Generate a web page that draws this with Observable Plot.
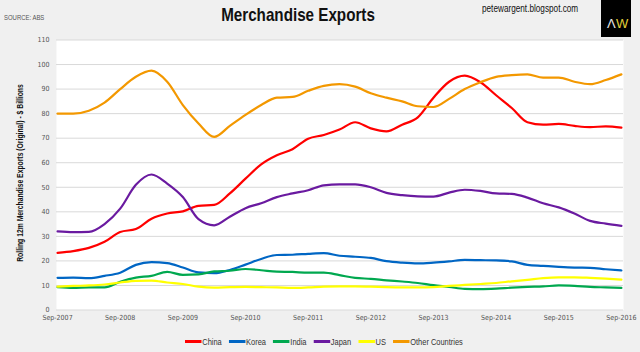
<!DOCTYPE html>
<html>
<head>
<meta charset="utf-8">
<script src="https://cdn.jsdelivr.net/npm/d3@7"></script>
<script src="https://cdn.jsdelivr.net/npm/@observablehq/plot@0.6"></script>
<style>
  body { margin:0; background:#f0f0f0; width:640px; height:352px; overflow:hidden; position:relative;
         font-family:"Liberation Sans",Arial,sans-serif; }
  #chart { position:absolute; left:0; top:0; }
  #title { position:absolute; left:198px; width:200px; top:4px; text-align:center; font-weight:bold; font-size:19px; color:#111;
           white-space:nowrap; transform:scaleX(0.8); transform-origin:center; }
  #source { position:absolute; left:4px; top:14px; font-size:7px; color:#555; white-space:nowrap; transform:scaleX(0.85); transform-origin:left; }
  #url { position:absolute; left:482px; top:3px; font-size:10px; color:#111; white-space:nowrap; transform:scaleX(0.82); transform-origin:left; }
  #logo { position:absolute; left:601px; top:0; width:30px; height:37px; background:#000; }
  #logo span { position:absolute; top:16px; font-size:13px; }
  #ytitle { position:absolute; left:20px; top:173px; transform:translate(-50%,-50%) rotate(-90deg) scaleX(0.8); white-space:nowrap;
            font-size:8.5px; font-weight:bold; color:#111; }
  #legend { position:absolute; left:185px; top:336px; display:flex; align-items:center; font-size:9.5px; color:#333;
            white-space:nowrap; transform:scaleX(0.785); transform-origin:left; }
  #legend .item { display:flex; align-items:center; margin-right:9px; }
  #legend .sw { width:21px; height:3px; margin-right:1px; }
</style>
</head>
<body>
<div id="chart"></div>
<div id="title">Merchandise Exports</div>
<div id="source">SOURCE: ABS</div>
<div id="url">petewargent.blogspot.com</div>
<div id="logo"><span style="left:6px;color:#e6e6e6">Λ</span><span style="left:15px;color:#e3cf3a">W</span></div>
<div id="ytitle">Rolling 12m Merchandise Exports (Original) - $ Billions</div>
<div id="legend"></div>
<script>
// quarterly observations, months since Sep-2007
const months = [0,3,6,9,12,15,18,21,24,27,30,33,36,39,42,45,48,51,54,57,60,63,66,69,72,75,78,81,84,87,90,93,96,99,102,105,108];
const seriesNames = ["China","Korea","India","Japan","US","Other Countries"];
const seriesColors = ["#ff0000","#0066c4","#00a84f","#6a1aa0","#ffff00","#f39800"];
const xTicks = [0,12,24,36,48,60,72,84,96,108];
const xTickLabels = ["Sep-2007","Sep-2008","Sep-2009","Sep-2010","Sep-2011","Sep-2012","Sep-2013","Sep-2014","Sep-2015","Sep-2016"];
const yTicks = [0,10,20,30,40,50,60,70,80,90,100,110];

const china  = [23.3,24,25.3,27.8,31.8,33,37.2,39.3,40.2,42.4,42.8,47.5,53.5,59.3,63,65.5,69.8,71.3,73.5,76.5,74,72.8,75.5,78.5,86.5,93,95.5,92.8,87.5,82.3,76.5,75.5,75.8,75,74.5,74.8,74.3];
const korea  = [13.1,13.2,13,13.9,15.2,18.4,19.5,19.1,17.3,15.3,15,16.3,18.5,20.8,22.4,22.5,22.9,23.2,22.1,21.7,21.2,19.9,19.3,19,19.3,19.8,20.4,20.3,20.2,19.8,18.4,18,17.6,17.3,17.2,16.6,16.1];
const india  = [9.3,9,9.2,9.2,11.5,13.2,13.9,15.5,14.3,14.5,15.7,16,16.7,16.2,15.6,15.5,15.2,15.2,14.2,13.1,12.7,12.1,11.6,11,10.1,9.4,8.6,8.5,8.7,9.1,9.4,9.6,10,9.8,9.4,9.2,9];
const japan  = [32,31.7,31.8,35,41.3,51,55.2,51.5,46,37,34.5,38,41.5,43.5,46,47.5,48.8,50.8,51.2,51.2,50,47.7,46.8,46.3,46.2,47.8,49,48.5,47.5,47.3,45.8,43.5,41.8,39.3,36.3,35.2,34.3];
const us     = [9.5,9.8,10,10.4,11.2,11.9,12,11.2,10.6,9.5,9.1,9.3,9.4,9.3,9.2,9,9.2,9.5,9.6,9.6,9.5,9.3,9.2,9.2,9.3,9.8,10.2,10.6,11,11.7,12.3,13,13.3,13.3,13.1,12.8,12.4];
const other  = [80,80,81.2,84.5,90,95,97.5,93,83.5,76,70.5,75,79.5,83.5,86.5,86.8,89.3,91.3,92,91,88.3,86.5,85,83,82.7,86,90,92.8,95,95.7,96,94.7,94.7,93,92,93.7,96];

const seriesValues = [china, korea, india, japan, us, other];
const rows = [];
seriesValues.forEach((vals, i) => vals.forEach((v, j) => rows.push({series: seriesNames[i], m: months[j], v})));

const chart = Plot.plot({
  width: 640, height: 330,
  marginTop: 39.5, marginBottom: 20.5, marginLeft: 56, marginRight: 17,
  style: {background: "transparent", fontFamily: '"DejaVu Sans Condensed","Liberation Sans",sans-serif', fontSize: "7px", color: "#555"},
  x: {domain: [-0.2, 108.4]},
  y: {domain: [0, 110]},
  color: {domain: seriesNames, range: seriesColors},
  marks: [
    Plot.frame({fill: "white", stroke: null}),
    Plot.gridY(yTicks, {stroke: "#d9d9d9", strokeOpacity: 1, strokeWidth: 1}),
    Plot.axisY(yTicks, {tickSize: 0, tickPadding: 7, label: null, fill: "#555"}),
    Plot.axisX(xTicks, {tickSize: 0, tickPadding: 5, label: null, fill: "#555",
                        tickFormat: d => xTickLabels[xTicks.indexOf(d)]}),
    Plot.line(rows, {x: "m", y: "v", z: "series", stroke: "series", strokeWidth: 2.2, curve: "monotone-x"})
  ]
});
document.getElementById("chart").appendChild(chart);

const legend = document.getElementById("legend");
seriesNames.forEach((n, i) => {
  const it = document.createElement("div");
  it.className = "item";
  it.innerHTML = `<span class="sw" style="background:${seriesColors[i]}"></span><span>${n}</span>`;
  legend.appendChild(it);
});
</script>
</body>
</html>
